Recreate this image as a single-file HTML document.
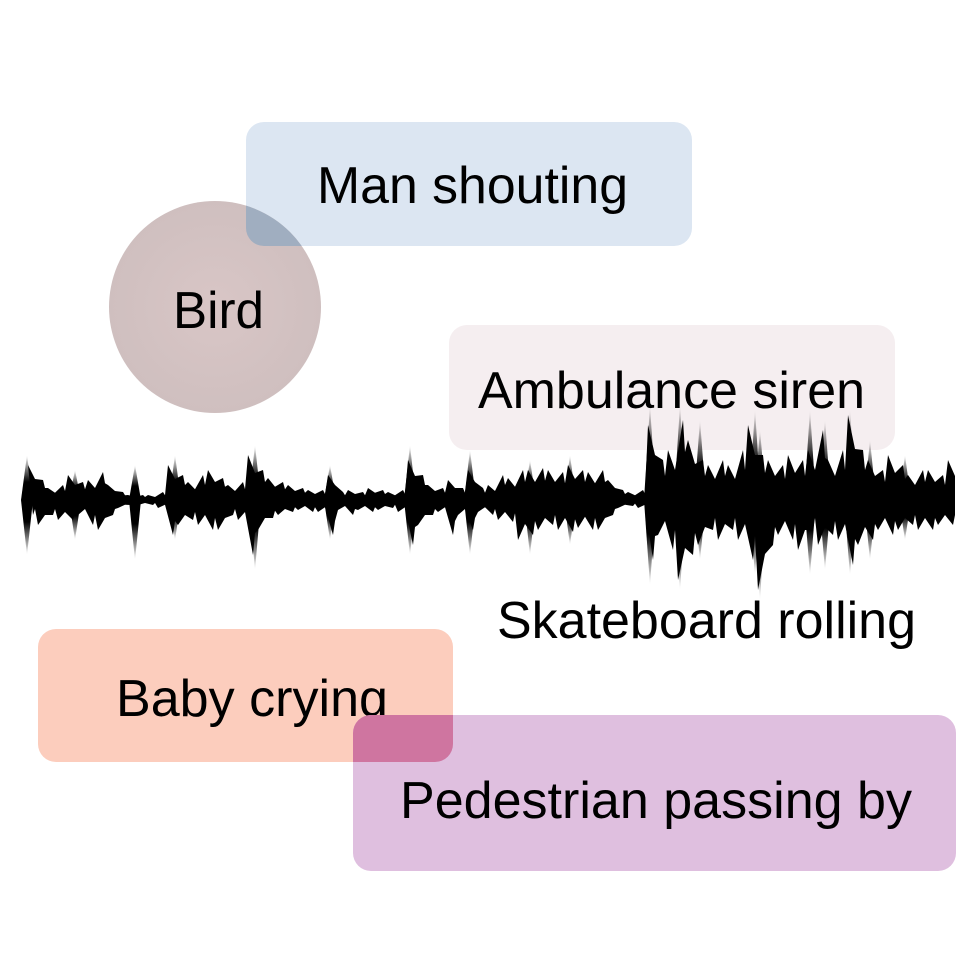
<!DOCTYPE html>
<html><head><meta charset="utf-8"><style>
html,body{margin:0;padding:0;background:#fff;}
svg{display:block;}
text{font-family:"Liberation Sans",sans-serif;font-size:52px;fill:#000;}
</style></head><body>
<svg id="fig" width="980" height="980" viewBox="0 0 980 980">
<defs>
<radialGradient id="birdg" cx="0.5" cy="0.5" r="0.5"><stop offset="0" stop-color="#d9c6c6"/><stop offset="1" stop-color="#cfbfbf"/></radialGradient>
<linearGradient id="upfade" x1="0" y1="1" x2="0" y2="0"><stop offset="0.4" stop-color="#000" stop-opacity="1"/><stop offset="1" stop-color="#000" stop-opacity="0"/></linearGradient>
<linearGradient id="downfade" x1="0" y1="0" x2="0" y2="1"><stop offset="0.4" stop-color="#000" stop-opacity="1"/><stop offset="1" stop-color="#000" stop-opacity="0"/></linearGradient>
<clipPath id="manclip"><rect x="246" y="122" width="446" height="124" rx="18"/></clipPath>
<clipPath id="babyclip"><rect x="38" y="629" width="415" height="133" rx="18"/></clipPath>
</defs>
<rect x="246" y="122" width="446" height="124" rx="18" fill="#dce6f2"/>
<circle cx="215" cy="307" r="106" fill="url(#birdg)"/>
<circle cx="215" cy="307" r="106" fill="#a0aec0" clip-path="url(#manclip)"/>
<rect x="449" y="325" width="446" height="125" rx="18" fill="#f5eef0"/>
<rect x="38" y="629" width="415" height="133" rx="18" fill="#fccdbd"/>
<text x="116" y="716" textLength="272" lengthAdjust="spacingAndGlyphs">Baby crying</text>
<rect x="353" y="715" width="603" height="156" rx="18" fill="#dfbfdf"/>
<rect x="353" y="715" width="603" height="156" rx="18" fill="#cf75a0" clip-path="url(#babyclip)"/>
<g id="wave"></g>
<text x="317" y="203" textLength="311" lengthAdjust="spacingAndGlyphs">Man shouting</text>
<text x="173" y="328" textLength="91" lengthAdjust="spacingAndGlyphs">Bird</text>
<text x="478" y="408" textLength="387" lengthAdjust="spacingAndGlyphs">Ambulance siren</text>
<text x="497" y="638" textLength="419" lengthAdjust="spacingAndGlyphs">Skateboard rolling</text>
<text x="400" y="818" textLength="512" lengthAdjust="spacingAndGlyphs">Pedestrian passing by</text>
</svg>
<script>
const sampleX0 = 30, sampleStep = 10;
const upperAmp = [35,20,12,15,25,18,20,28,15,8,5,5,5,8,35,25,18,25,30,22,15,18,45,30,22,18,15,12,10,10,25,8,10,8,12,10,8,10,40,25,15,12,20,12,30,12,15,25,22,30,30,32,30,28,35,30,28,30,20,10,8,10,75,40,50,80,60,40,35,40,35,50,75,45,40,35,45,40,50,70,40,50,85,50,40,30,45,35,25,30,30,25,40];
const lowerAmp = [15,25,15,20,20,15,25,30,15,8,5,5,5,8,35,25,20,25,30,30,15,20,55,30,18,15,12,10,12,12,35,10,15,10,12,10,8,12,45,25,15,12,35,15,30,12,15,20,22,40,35,30,25,30,32,28,30,30,15,8,6,8,60,35,50,80,55,45,30,40,30,40,60,90,45,35,40,50,30,45,35,40,65,45,40,30,35,30,25,30,30,25,25];
const spikeX = [27,75,135,175,255,330,410,470,530,570,650,680,700,755,760,810,825,850,870,905];
const spikeUp = [45,30,35,45,55,35,55,50,40,45,95,95,80,90,70,90,80,90,60,45];
const spikeDown = [55,40,60,40,70,40,55,55,55,45,85,90,60,75,100,75,70,75,60,40];
const baseY = 500;
const xs = i => sampleX0 + i*sampleStep;
const g = document.getElementById('wave');
const NS = 'http://www.w3.org/2000/svg';
let pts = [];
upperAmp.forEach((a,i)=>{pts.push([xs(i) + (i%2?3:-2), baseY - a]); pts.push([xs(i)+5, baseY - a*0.6]);});
for(let i=lowerAmp.length-1;i>=0;i--){pts.push([xs(i)+5, baseY + lowerAmp[i]*0.6]); pts.push([xs(i) + (i%2?-2:3), baseY + lowerAmp[i]]);}
const poly = document.createElementNS(NS,'polygon');
poly.setAttribute('points', pts.map(p=>p.join(',')).join(' '));
poly.setAttribute('fill','#000');


g.appendChild(poly);
spikeX.forEach((x,i)=>{
  const up = document.createElementNS(NS,'polygon');
  up.setAttribute('points', `${x-6},${baseY} ${x},${baseY-spikeUp[i]} ${x+6},${baseY}`);
  up.setAttribute('fill','url(#upfade)');
  
  
  g.appendChild(up);
  const dn = document.createElementNS(NS,'polygon');
  dn.setAttribute('points', `${x-6},${baseY} ${x},${baseY+spikeDown[i]} ${x+6},${baseY}`);
  dn.setAttribute('fill','url(#downfade)');
  
  
  g.appendChild(dn);
});
</script>
</body></html>
